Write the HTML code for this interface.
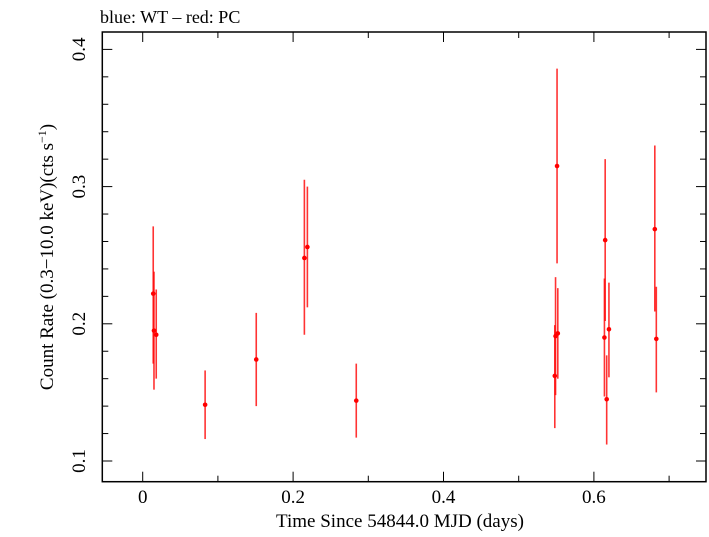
<!DOCTYPE html>
<html><head><meta charset="utf-8"><style>
body{margin:0;background:#fff}
svg text{font-family:"Liberation Serif",serif;fill:#000}
</style></head><body>
<svg id="chart" width="709" height="532" xmlns="http://www.w3.org/2000/svg">
<text x="100" y="23" font-size="18">blue: WT – red: PC</text>
<g id="axes"></g>
<g id="marks"></g>
<text x="400" y="527" font-size="19" text-anchor="middle">Time Since 54844.0 MJD (days)</text>
<text transform="translate(53,257) rotate(-90)" font-size="19" text-anchor="middle">Count Rate (0.3−10.0 keV)(cts s<tspan font-size="12" dy="-7">−1</tspan><tspan dy="7">)</tspan></text>
</svg>
<script>
const times = [0.014,0.015,0.018,0.083,0.151,0.215,0.219,0.284,0.551,0.548,0.549,0.552,0.615,0.614,0.620,0.617,0.681,0.683];
const rates = [0.222,0.195,0.192,0.141,0.174,0.248,0.256,0.144,0.315,0.162,0.191,0.193,0.261,0.190,0.196,0.145,0.269,0.189];
const errHi = [0.271,0.238,0.225,0.166,0.208,0.305,0.300,0.171,0.386,0.199,0.234,0.226,0.320,0.233,0.230,0.177,0.330,0.227];
const errLo = [0.171,0.152,0.160,0.116,0.140,0.192,0.212,0.117,0.244,0.124,0.148,0.160,0.202,0.147,0.161,0.112,0.209,0.150];
const xTicks = [0,0.2,0.4,0.6];
const xTickLabels = ["0","0.2","0.4","0.6"];
const yTicks = [0.1,0.2,0.3,0.4];
const yTickLabels = ["0.1","0.2","0.3","0.4"];

const L=102.3,R=706,T=32,B=481.7;
const xs=v=>142.7+v*752;
const ys=v=>461-(v-0.1)*1372;
const NS="http://www.w3.org/2000/svg";
function mk(tag,attrs,parent){const e=document.createElementNS(NS,tag);for(const k in attrs)e.setAttribute(k,attrs[k]);parent.appendChild(e);return e;}
const ax=document.getElementById('axes'),mg=document.getElementById('marks');
const frame=mk('rect',{x:L,y:T,width:R-L,height:B-T,fill:'none',stroke:'#000','stroke-width':1.5},ax);


for(let i=0;i<=7;i++){const v=i*0.1;const x=xs(v);const len=(i%2===0)?10:6;
 const t1=mk('line',{x1:x,x2:x,y1:B,y2:B-len,stroke:'#000','stroke-width':1},ax);
 
 
 const t2=mk('line',{x1:x,x2:x,y1:T,y2:T+len,stroke:'#000','stroke-width':1},ax);
 
 }
xTicks.forEach((v,i)=>{const t=mk('text',{x:xs(v),y:503,'font-size':19,'text-anchor':'middle'},ax);t.textContent=xTickLabels[i];
 
 });
for(let i=0;i<=16;i++){const v=0.08+i*0.02;const y=ys(v);if(y>B||y<T)continue;const len=(Math.round(v*100)%10===0)?10:6;
 const t1=mk('line',{x1:L,x2:L+len,y1:y,y2:y,stroke:'#000','stroke-width':1},ax);
 
 
 const t2=mk('line',{x1:R,x2:R-len,y1:y,y2:y,stroke:'#000','stroke-width':1},ax);
 
 }
yTicks.forEach((v,i)=>{const t=mk('text',{transform:`translate(85,${ys(v)}) rotate(-90)`,'font-size':19,'text-anchor':'middle'},ax);t.textContent=yTickLabels[i];
 
 });
times.forEach((t,i)=>{const x=xs(t);
 const eb=mk('line',{x1:x,x2:x,y1:ys(errHi[i]),y2:ys(errLo[i]),stroke:'#ff0000','stroke-width':1.6,'stroke-opacity':0.8},mg);
 
 
 const p=mk('circle',{cx:x,cy:ys(rates[i]),r:2.3,fill:'#ff0000'},mg);
 
 });
</script>
</body></html>
